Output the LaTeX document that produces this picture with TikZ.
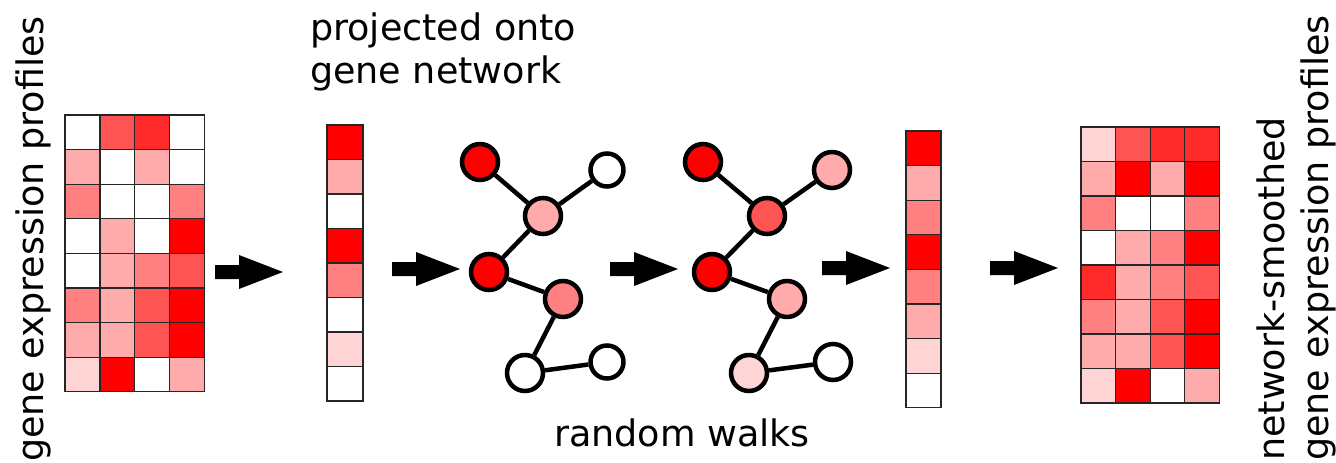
\documentclass[tikz,border=0pt]{standalone}
\usepackage{fontspec}
\setmainfont{DejaVu Sans}
\newcommand\heatmap[5]{%
  \foreach \row [count=\i] in {#5} {
    \foreach \v [count=\j] in \row {
      \draw[cell, fill=red!\v] ({#1+(\j-1)*#3},{#2+(\i-1)*#4}) rectangle ++(#3,#4);
    }
  }%
}
\begin{document}
\begin{tikzpicture}[x=1pt,y=-1pt,
  cell/.style={draw=black!85,line width=1.3pt},
  gnode/.style={circle,draw=black,line width=4.5pt,minimum size=36pt,inner sep=0pt},
  snode/.style={gnode,minimum size=33pt},
  gedge/.style={line width=4.5pt},
  blockarrow/.style={fill=black},
  lbl/.style={font=\fontsize{36.5}{44}\selectfont, inner sep=0pt}
]
\useasboundingbox (0,0) rectangle (1336,463);

% heat maps
\heatmap{65}{115}{34.9}{34.6}{{0,67,83,0},{33,0,33,0},{50,0,0,50},{0,33,0,100},{0,33,50,67},{50,33,67,100},{33,33,67,100},{17,100,0,33}}
\heatmap{327}{125}{36}{34.5}{{100},{33},{0},{100},{50},{0},{17},{0}}
\heatmap{906}{131}{35}{34.6}{{100},{33},{50},{100},{50},{33},{17},{0}}
\heatmap{1081}{127}{34.6}{34.5}{{17,67,83,83},{33,100,33,100},{50,0,0,50},{0,33,50,100},{83,33,50,67},{50,33,67,100},{33,33,67,100},{17,100,0,33}}

% graph 1
\node[gnode,fill=red]    (a1) at (480,162) {};
\node[snode,fill=white]  (b1) at (607,170) {};
\node[gnode,fill=red!33] (c1) at (543,216) {};
\node[gnode,fill=red]    (d1) at (489,272) {};
\node[gnode,fill=red!50] (e1) at (563,299) {};
\node[gnode,fill=white]  (f1) at (525,373) {};
\node[snode,fill=white]  (g1) at (607,362) {};
\draw[gedge] (a1) -- (c1) (b1) -- (c1) (c1) -- (d1) (d1) -- (e1) (e1) -- (f1) (f1) -- (g1);

% graph 2
\node[gnode,fill=red]    (a2) at (703,162) {};
\node[gnode,fill=red!33] (b2) at (832,170) {};
\node[gnode,fill=red!67] (c2) at (767,216) {};
\node[gnode,fill=red]    (d2) at (712,272) {};
\node[gnode,fill=red!33] (e2) at (787,299) {};
\node[gnode,fill=red!17] (f2) at (749,373) {};
\node[gnode,fill=white]  (g2) at (833,362) {};
\draw[gedge] (a2) -- (c2) (b2) -- (c2) (c2) -- (d2) (d2) -- (e2) (e2) -- (f2) (f2) -- (g2);

% block arrows
\foreach \x/\y in {215/272,392/269,610/269,822/268,990/268}
  \fill[blockarrow] (\x,{\y-7}) -- ({\x+24},{\y-7}) -- ({\x+24},{\y-17}) -- ({\x+68},\y)
     -- ({\x+24},{\y+17}) -- ({\x+24},{\y+7}) -- (\x,{\y+7}) -- cycle;

% labels
\node[lbl,anchor=base west] (proj1) at (310,40) {projected onto};
\node[lbl,anchor=base west] (proj2) at (310,83) {gene network};
\node[lbl,anchor=base] (rw) at (682,446) {random walks};
\node[lbl,rotate=90,anchor=base west] (lt) at (43,462) {gene expression profiles};
\node[lbl,rotate=90,anchor=base west] (rt1) at (1284,461) {network-smoothed};
\node[lbl,rotate=90,anchor=base west] (rt2) at (1328,461) {gene expression profiles};
\end{tikzpicture}
\end{document}
